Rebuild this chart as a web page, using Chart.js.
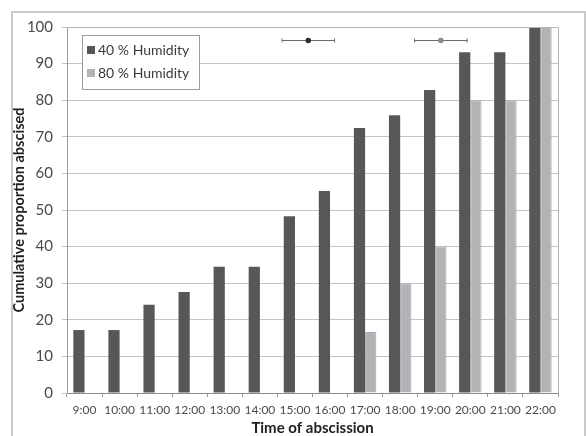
<!DOCTYPE html>
<html>
<head>
<meta charset="utf-8">
<title>Cumulative abscission</title>
<script src="https://cdn.jsdelivr.net/npm/chart.js@4.4.1/dist/chart.umd.min.js"></script>
<style>
  html, body { margin: 0; padding: 0; background: #ffffff; }
  #chartContainer { width: 586px; height: 436px; position: relative; }
</style>
</head>
<body>
<div id="chartContainer">
  <canvas id="myChart" width="586" height="436"></canvas>
</div>
<script>
// horas de observación
const hours = ["9:00", "10:00", "11:00", "12:00", "13:00", "14:00", "15:00",
  "16:00", "17:00", "18:00", "19:00", "20:00", "21:00", "22:00"];
const firstHour = 9;

// proporción acumulada (%) por tratamiento
const humidity40 = [17.2, 17.2, 24.1, 27.6, 34.5, 34.5, 48.3, 55.2, 72.4, 75.9, 82.8, 93.1, 93.1, 100];
const humidity80 = [0, 0, 0, 0, 0, 0, 0, 0, 16.7, 30, 40, 80, 80, 100];

// hora media de abscisión ± error (horas), fila superior
const meanTime = [15.38, 19.16];
const meanTimeErr = [0.75, 0.75];
const meanRow = [96.5, 96.5];
const meanColors = ["#2e2e2e", "#8a8a8a"];

const seriesNames = ["40 % Humidity", "80 % Humidity"];
const darkGray = "#575757";
const lightGray = "#b3b3b3";

// marco exterior y borde del área del gráfico
const framePlugin = {
  id: "frame",
  beforeDraw(chart) {
    const ctx = chart.ctx;
    ctx.save();
    ctx.fillStyle = "#ffffff";
    ctx.fillRect(0, 0, chart.width, chart.height);
    ctx.strokeStyle = "#c9c9c9";
    ctx.lineWidth = 2;
    ctx.strokeRect(12, 12, chart.width - 13, chart.height);
    ctx.restore();
  },
  afterDatasetsDraw(chart) {
    const a = chart.chartArea;
    const ctx = chart.ctx;
    ctx.save();
    ctx.strokeStyle = "#b5b5b5";
    ctx.lineWidth = 1;
    ctx.beginPath();
    ctx.moveTo(a.left, a.top + 0.5);
    ctx.lineTo(a.right + 0.5, a.top + 0.5);
    ctx.lineTo(a.right + 0.5, a.bottom);
    ctx.stroke();
    ctx.restore();
  }
};

// hora media con barra de error horizontal (índice fraccionario en el eje de categorías)
const meanTimePlugin = {
  id: "meanTime",
  afterDatasetsDraw(chart) {
    const ctx = chart.ctx;
    const xs = chart.scales.x;
    const ys = chart.scales.y;
    meanTime.forEach((t, i) => {
      const x = xs.getPixelForValue(t - firstHour);
      const x0 = xs.getPixelForValue(t - meanTimeErr[i] - firstHour);
      const x1 = xs.getPixelForValue(t + meanTimeErr[i] - firstHour);
      const y = Math.round(ys.getPixelForValue(meanRow[i])) + 0.5;
      ctx.save();
      ctx.strokeStyle = "#6a6a6a";
      ctx.lineWidth = 1;
      ctx.beginPath();
      ctx.moveTo(x0, y);
      ctx.lineTo(x1, y);
      ctx.moveTo(x0, y - 2);
      ctx.lineTo(x0, y + 2);
      ctx.moveTo(x1, y - 2);
      ctx.lineTo(x1, y + 2);
      ctx.stroke();
      ctx.fillStyle = meanColors[i];
      ctx.beginPath();
      ctx.arc(x, y, 2.8, 0, Math.PI * 2);
      ctx.fill();
      ctx.restore();
    });
  }
};

// leyenda dentro del área del gráfico
const boxLegendPlugin = {
  id: "boxLegend",
  afterDraw(chart) {
    const a = chart.chartArea;
    const ctx = chart.ctx;
    const x = a.left + 15;
    const y = a.top + 8;
    ctx.save();
    ctx.fillStyle = "#ffffff";
    ctx.fillRect(x, y, 117, 54);
    ctx.strokeStyle = "#9c9c9c";
    ctx.lineWidth = 1;
    ctx.strokeRect(x + 0.5, y + 0.5, 117, 54);
    ctx.font = "14px Lato";
    ctx.textBaseline = "middle";
    [0, 1].forEach((k) => {
      const ds = chart.data.datasets[k];
      const cy = y + 15 + k * 23;
      ctx.fillStyle = ds.backgroundColor;
      ctx.fillRect(x + 5, cy - 4, 8, 8);
      ctx.fillStyle = "#3a3a3a";
      ctx.fillText(ds.label, x + 16, cy);
    });
    ctx.restore();
  }
};

const ctx = document.getElementById("myChart").getContext("2d");
window.myChart = new Chart(ctx, {
  type: "bar",
  data: {
    labels: hours,
    datasets: [
      {
        label: seriesNames[0],
        data: humidity40,
        backgroundColor: darkGray,
        borderWidth: 0
      },
      {
        label: seriesNames[1],
        data: humidity80,
        backgroundColor: lightGray,
        borderColor: "#9aaac8",
        borderWidth: { left: 1, right: 1, top: 1, bottom: 0 }
      }
    ]
  },
  options: {
    responsive: false,
    animation: false,
    categoryPercentage: 0.64,
    barPercentage: 1.0,
    layout: { padding: { left: 12, top: 27, right: 28, bottom: 0 } },
    plugins: {
      legend: { display: false },
      tooltip: { enabled: false }
    },
    scales: {
      x: {
        type: "category",
        offset: true,
        grid: {
          offset: true,
          drawOnChartArea: false,
          drawTicks: true,
          tickLength: 4,
          color: "#9a9a9a"
        },
        border: { color: "#8c8c8c" },
        ticks: {
          maxRotation: 0,
          autoSkip: false,
          padding: 6,
          color: "#4a4a4a",
          font: { family: "Lato", size: 12 }
        },
        title: {
          display: true,
          text: "Time of abscission",
          color: "#222222",
          font: { family: "Lato", size: 15, weight: "bold" },
          padding: { top: 0, bottom: -1 }
        },
        afterFit(scale) { scale.height = 43; }
      },
      y: {
        min: 0,
        max: 100,
        ticks: {
          stepSize: 10,
          padding: 9,
          color: "#4a4a4a",
          font: { family: "Lato", size: 15 }
        },
        grid: {
          color: "#c4c4c4",
          tickLength: 5
        },
        border: { color: "#9a9a9a" },
        title: {
          display: true,
          text: "Cumulative proportion abscised",
          color: "#222222",
          font: { family: "Lato", size: 14.5, weight: "bold" },
          padding: { top: -1, bottom: 0 }
        },
        afterFit(scale) { scale.width = 55; }
      }
    }
  },
  plugins: [framePlugin, meanTimePlugin, boxLegendPlugin]
});
</script>
</body>
</html>
